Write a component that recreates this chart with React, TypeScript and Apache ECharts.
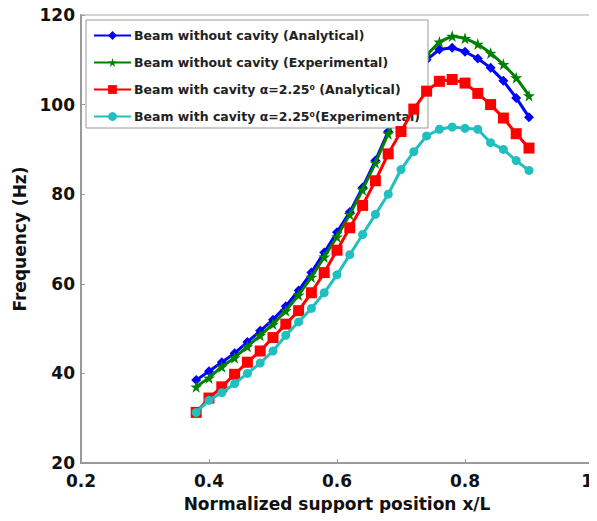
import React, { useEffect, useRef } from "react";
import * as echarts from "echarts";

const xValues = [0.38, 0.40, 0.42, 0.44, 0.46, 0.48, 0.50, 0.52, 0.54, 0.56, 0.58, 0.60, 0.62, 0.64, 0.66, 0.68, 0.70, 0.72, 0.74, 0.76, 0.78, 0.80, 0.82, 0.84, 0.86, 0.88, 0.90];

const noCavityAnalytical = [38.5, 40.5, 42.5, 44.5, 47, 49.5, 52, 55, 58.5, 62.5, 67, 71.5, 76, 81.5, 87.5, 94, 100.5, 106, 110, 112.3, 112.7, 111.8, 110.3, 108.2, 105.3, 101.5, 97.2];
const noCavityExperimental = [37, 39, 41.5, 43.5, 46, 48.5, 51, 54, 57.5, 61.5, 66, 70.5, 75.5, 81, 87, 93.5, 100, 106, 111, 114, 115.3, 114.8, 113.5, 111.5, 109, 106, 102];
const cavityAnalytical = [31.3, 34.5, 37, 39.8, 42.5, 45, 48, 51, 54, 58, 62.5, 67.5, 72.5, 77.5, 83, 89, 94, 99, 103, 105.2, 105.6, 104.8, 102.5, 100, 97, 93.5, 90.3];
const cavityExperimental = [31.3, 34, 35.7, 37.7, 40, 42.3, 45, 48.5, 51.5, 54.5, 58, 62, 66.5, 71, 75.5, 80, 85.5, 89.5, 93, 94.5, 95, 94.7, 94.5, 91.5, 90, 87.5, 85.3];

const seriesNames = [
  "Beam without cavity (Analytical)",
  "Beam without cavity (Experimental)",
  "Beam with cavity \u03b1=2.25\u2070 (Analytical)",
  "Beam with cavity \u03b1=2.25\u2070(Experimental)",
];

const xTicks = [0.2, 0.4, 0.6, 0.8, 1];
const yTicks = [20, 40, 60, 80, 100, 120];

const STAR = "path://M50,0 L61,35 L98,35 L68,57 L79,91 L50,70 L21,91 L32,57 L2,35 L39,35 Z";

export default function App() {
  const ref = useRef<HTMLDivElement>(null);
  useEffect(() => {
    if (!ref.current) return;
    const chart = echarts.init(ref.current, null, { renderer: "svg" });
    const font = "'DejaVu Sans', 'Open Sans', sans-serif";
    const mk = (vals: number[]) => xValues.map((x, i) => [x, vals[i]]);
    const colors = ["#0000ff", "#008000", "#ff0000", "#21bfbf"];
    const symbols = ["diamond", STAR, "rect", "circle"];
    const sizes = [10, 12, 11, 9];
    const datas = [noCavityAnalytical, noCavityExperimental, cavityAnalytical, cavityExperimental];
    chart.setOption({
      animation: false,
      backgroundColor: "#ffffff",
      grid: {
        left: 81,
        top: 15,
        right: 4,
        bottom: 58,
        show: true,
        borderColor: "#aaaaaa",
        borderWidth: 1,
      },
      legend: {
        show: true,
        orient: "vertical",
        left: 86,
        top: 20,
        backgroundColor: "#ffffff",
        borderColor: "#999999",
        borderWidth: 1,
        borderRadius: 0,
        padding: [9, 8, 5, 7],
        itemGap: 14,
        itemWidth: 37,
        itemHeight: 11,
        data: seriesNames,
        textStyle: {
          fontFamily: font,
          fontWeight: "bold",
          fontSize: 12.5,
          color: "#222222",
          padding: [0, 0, 0, -2],
        },
      },
      xAxis: {
        type: "value",
        min: 0.2,
        max: 1,
        interval: 0.2,
        name: "Normalized support position x/L",
        nameLocation: "middle",
        nameGap: 32,
        nameTextStyle: { fontFamily: font, fontWeight: "bold", fontSize: 17, color: "#111111" },
        axisLine: { show: true, lineStyle: { color: "#999999", width: 2 } },
        axisTick: { show: true, inside: true, length: 4, lineStyle: { color: "#999999" } },
        axisLabel: {
          fontFamily: font,
          fontWeight: "bold",
          fontSize: 17,
          color: "#111111",
          margin: 9,
          alignMaxLabel: "right",
          formatter: (v: number) => {
            const t = xTicks.find((k) => Math.abs(k - v) < 1e-6);
            return t === undefined ? "" : String(t);
          },
        },
        splitLine: { show: false },
      },
      yAxis: {
        type: "value",
        min: 20,
        max: 120,
        interval: 20,
        name: "Frequency (Hz)",
        nameLocation: "middle",
        nameGap: 50,
        nameTextStyle: { fontFamily: font, fontWeight: "bold", fontSize: 17, color: "#111111" },
        axisLine: { show: true, lineStyle: { color: "#999999", width: 2 } },
        axisTick: { show: true, inside: true, length: 4, lineStyle: { color: "#999999" } },
        axisLabel: {
          fontFamily: font,
          fontWeight: "bold",
          fontSize: 17,
          color: "#111111",
          margin: 6,
          formatter: (v: number) => {
            const t = yTicks.find((k) => Math.abs(k - v) < 1e-6);
            return t === undefined ? "" : String(t);
          },
        },
        splitLine: { show: false },
      },
      series: datas.map((d, i) => ({
        name: seriesNames[i],
        type: "line",
        data: mk(d),
        color: colors[i],
        symbol: symbols[i],
        symbolSize: sizes[i],
        showSymbol: true,
        lineStyle: { width: 3, color: colors[i] },
        itemStyle: { color: colors[i] },
        z: 2 + i,
      })),
    });
    return () => chart.dispose();
  }, []);
  return <div ref={ref} style={{ width: 597, height: 521, margin: -8 }} />;
}
